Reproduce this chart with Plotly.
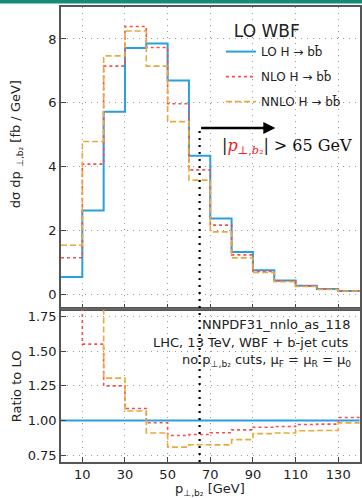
import plotly.graph_objects as go

# ---------------- data ----------------
bin_edges = [0, 10, 20, 30, 40, 50, 60, 70, 80, 90, 100, 110, 120, 130, 140]
lo = [0.55, 2.63, 5.72, 7.72, 7.86, 6.70, 4.34, 2.38, 1.33, 0.76, 0.44, 0.27, 0.17, 0.11]
nlo = [1.15, 4.08, 7.15, 8.39, 7.73, 5.97, 3.90, 2.17, 1.24, 0.723, 0.421, 0.262, 0.1655, 0.1124]
nnlo = [1.54, 4.79, 7.47, 8.25, 7.15, 5.41, 3.58, 1.96, 1.146, 0.688, 0.400, 0.250, 0.1576, 0.1081]
x_ticks = [10, 30, 50, 70, 90, 110, 130]
y_ticks_main = [0, 2, 4, 6, 8]
y_ticks_ratio = [0.75, 1.00, 1.25, 1.50, 1.75]
y_tick_ratio_labels = ["0.75", "1.00", "1.25", "1.50", "1.75"]
cut_value = 65
arrow_end = 100.5
arrow_y = 5.21

names = ["LO H \u2192 bb\u0304", "NLO H \u2192 bb\u0304", "NNLO H \u2192 bb\u0304"]
colors = ["#2a9fe0", "#f45050", "#e9a93c"]
dashes = ["solid", "dot", "6px,3px"]
widths = [2.0, 1.6, 1.6]

# ---------------- layout geometry (pixels) ----------------
W, H = 362, 498
top_px, sep_px, bot_px = 7, 309, 462
left_px = 61
def py(p):
    return (bot_px - p) / (bot_px - top_px)

def step(vals):
    return list(vals) + [vals[-1]]

fig = go.Figure()
series = [lo, nlo, nnlo]
for i, vals in enumerate(series):
    fig.add_trace(go.Scatter(
        x=bin_edges, y=step(vals), mode="lines", line_shape="hv",
        line=dict(color=colors[i], width=widths[i], dash=dashes[i]),
        name=names[i], legendgroup=f"g{i}", xaxis="x", yaxis="y"))
for i, vals in enumerate(series):
    ratio = [v / l for v, l in zip(vals, lo)]
    fig.add_trace(go.Scatter(
        x=bin_edges, y=step(ratio), mode="lines", line_shape="hv",
        line=dict(color=colors[i], width=widths[i], dash=dashes[i]),
        showlegend=False, xaxis="x2", yaxis="y2"))

tickfont = dict(family="DejaVu Sans", size=13, color="#222")
axcommon = dict(showline=True, linecolor="#555", linewidth=1.5, ticks="inside",
                ticklen=5, tickcolor="#444", showgrid=True, gridcolor="#9a9a9a",
                griddash="1px,5px", gridwidth=1, zeroline=False, mirror=True)
xr = [0, 140.2]
fig.update_layout(
    width=W, height=H,
    margin=dict(l=left_px, r=0, t=top_px, b=H - bot_px),
    paper_bgcolor="white", plot_bgcolor="white",
    font=dict(family="DejaVu Sans", size=13, color="#222"),
    xaxis=dict(domain=[0, 1], anchor="y", range=xr, tickvals=x_ticks,
               showticklabels=False, **axcommon),
    yaxis=dict(domain=[py(sep_px), 1], anchor="x", range=[-0.455, 9.0],
               tickvals=y_ticks_main, tickfont=tickfont, **axcommon),
    xaxis2=dict(domain=[0, 1], anchor="y2", range=xr, tickvals=x_ticks,
                tickfont=tickfont, **axcommon),
    yaxis2=dict(domain=[0, py(sep_px)], anchor="x2", range=[0.70, 1.805],
                tickvals=y_ticks_ratio, ticktext=y_tick_ratio_labels,
                tickfont=tickfont, **axcommon),
    showlegend=True,
    legend=dict(x=0.535, y=py(15), xanchor="left", yanchor="top",
                bgcolor="rgba(255,255,255,0)", font=dict(size=12, family="DejaVu Sans", color="#222"),
                title=dict(text="  LO WBF", font=dict(size=17, family="DejaVu Sans", color="#222"), side="top"),
                traceorder="grouped", tracegroupgap=6, itemwidth=30),
)

shapes = [
    # teal band at top of the page
    dict(type="rect", xref="paper", yref="paper", x0=-1, x1=2, y0=py(3.5), y1=py(-2),
         fillcolor="#128c76", line=dict(width=0), layer="above"),
    # separator between panels
    dict(type="line", xref="paper", yref="paper", x0=0, x1=1, y0=py(sep_px), y1=py(sep_px),
         line=dict(color="#666", width=2.2)),
    # vertical cut line
    dict(type="line", xref="x", yref="paper", x0=cut_value, x1=cut_value, y0=0, y1=py(128),
         line=dict(color="black", width=2.2, dash="2px,5px")),
]
fig.update_layout(shapes=shapes)

ann = [
    dict(x=arrow_end, y=arrow_y, ax=cut_value, ay=arrow_y, xref="x", yref="y", axref="x", ayref="y",
         text="", showarrow=True, arrowhead=2, arrowsize=1.0, arrowwidth=2.4, arrowcolor="black"),
    dict(x=(221 - left_px) / (W - left_px), y=py(146), xref="paper", yref="paper",
         xanchor="left", yanchor="middle", showarrow=False,
         text="|<span style='color:#ee2222'><i>p</i><sub>\u22a5,<i>b</i>\u2082</sub></span>| > 65 GeV",
         font=dict(family="DejaVu Serif", size=16, color="#111")),
    dict(x=(354 - left_px) / (W - left_px), y=py(324), xref="paper", yref="paper",
         xanchor="right", yanchor="middle", showarrow=False, text="NNPDF31_nnlo_as_118"),
    dict(x=(353 - left_px) / (W - left_px), y=py(342), xref="paper", yref="paper",
         xanchor="right", yanchor="middle", showarrow=False, text="LHC, 13 TeV, WBF + b-jet cuts"),
    dict(x=(355 - left_px) / (W - left_px), y=py(360), xref="paper", yref="paper",
         xanchor="right", yanchor="middle", showarrow=False,
         text="no p<sub>\u22a5,b\u2082</sub> cuts, \u03bc<sub>F</sub> = \u03bc<sub>R</sub> = \u03bc<sub>0</sub>"),
    # y titles
    dict(x=(16 - left_px) / (W - left_px), y=py(144), xref="paper", yref="paper",
         xanchor="center", yanchor="middle", showarrow=False, textangle=-90,
         text="d\u03c3 dp <sub>\u22a5,b\u2082</sub> [fb / GeV]"),
    dict(x=(16 - left_px) / (W - left_px), y=py(386), xref="paper", yref="paper",
         xanchor="center", yanchor="middle", showarrow=False, textangle=-90,
         text="Ratio to LO"),
    dict(x=(211 - left_px) / (W - left_px), y=py(489), xref="paper", yref="paper",
         xanchor="center", yanchor="middle", showarrow=False,
         text="p<sub>\u22a5,b\u2082</sub> [GeV]"),
]
fig.update_layout(annotations=ann)

fig.write_html("out.html")
